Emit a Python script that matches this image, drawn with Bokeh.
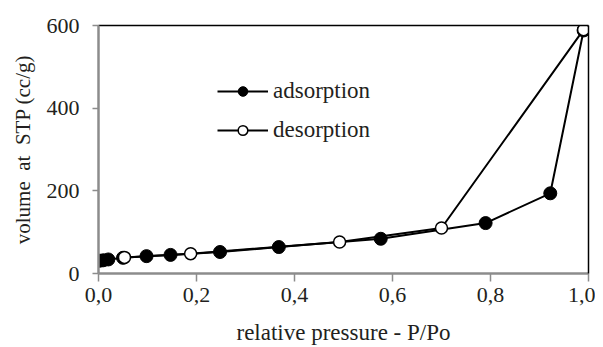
from bokeh.plotting import figure
from bokeh.models import Range1d, LinearAxis, FixedTicker, Legend, LegendItem
from bokeh.embed import file_html
from bokeh.resources import INLINE

# data
ads_x = [0.003, 0.01, 0.02, 0.05, 0.098, 0.147, 0.248, 0.368, 0.576, 0.79, 0.922, 0.99]
ads_y = [31, 32, 34, 38, 42, 45, 52, 64, 84, 122, 194, 588]
des_x = [0.99, 0.70, 0.492, 0.188, 0.053]
des_y = [590, 110, 76, 48, 39]

x_ticks = [0.0, 0.2, 0.4, 0.6, 0.8, 1.0]
x_tick_labels = ["0,0", "0,2", "0,4", "0,6", "0,8", "1,0"]
y_ticks = [0, 200, 400, 600]
y_tick_labels = ["0", "200", "400", "600"]

FONT = "Liberation Serif"
TXT = "#231f20"
AX = "#8c8c8c"

p = figure(width=595, height=347, output_backend="svg", toolbar_location=None,
           x_range=Range1d(0, 1.0), y_range=Range1d(0, 600),
           min_border_left=98, min_border_right=7, min_border_top=25, min_border_bottom=74)
p.xgrid.visible = False
p.ygrid.visible = False
p.outline_line_color = None
p.background_fill_color = "white"

for ax in (p.xaxis[0], p.yaxis[0]):
    ax.axis_line_color = AX
    ax.axis_line_width = 2.5
    ax.major_tick_line_color = AX
    ax.major_tick_line_width = 1.5
    ax.major_tick_in = 0
    ax.minor_tick_line_color = None
    ax.major_label_text_font = FONT
    ax.major_label_text_font_size = "22px"
    ax.major_label_text_color = TXT
    ax.axis_label_text_font = FONT
    ax.axis_label_text_font_style = "normal"
    ax.axis_label_text_color = TXT

p.xaxis.ticker = FixedTicker(ticks=x_ticks)
p.xaxis.major_label_overrides = dict(zip(x_ticks, x_tick_labels))
p.xaxis.major_tick_out = 8
p.xaxis.major_label_standoff = 6
p.xaxis.axis_label = "relative pressure - P/Po"
p.xaxis.axis_label_text_font_size = "23px"
p.xaxis.axis_label_standoff = 15

p.yaxis.ticker = FixedTicker(ticks=y_ticks)
p.yaxis.major_label_overrides = dict(zip(y_ticks, y_tick_labels))
p.yaxis.major_tick_out = 6
p.yaxis.major_label_standoff = 13
p.yaxis.axis_label = "volume\u00a0 at\u00a0 STP (cc/g)"
p.yaxis.axis_label_text_font_size = "21px"
p.yaxis.axis_label_standoff = 9

# black top and right borders
for side in ("above", "right"):
    a = LinearAxis(ticker=FixedTicker(ticks=[]), axis_line_color="black", axis_line_width=1.5,
                   major_tick_line_color=None, minor_tick_line_color=None,
                   major_label_text_font_size="0px")
    p.add_layout(a, side)

l1 = p.line(ads_x, ads_y, line_color="black", line_width=2)
l2 = p.line(des_x, des_y, line_color="black", line_width=2)
s1 = p.scatter(ads_x, ads_y, marker="circle", size=13, fill_color="black", line_color="black")
s2 = p.scatter(des_x, des_y, marker="circle", size=12, fill_color="white", line_color="black", line_width=1.5)

legend = Legend(items=[LegendItem(label="adsorption", renderers=[l1, s1]),
                       LegendItem(label="desorption", renderers=[l2, s2])],
                location=(119, 130), padding=0, margin=0, spacing=13,
                glyph_width=51, glyph_height=24, label_height=24, label_standoff=5,
                border_line_color=None, background_fill_alpha=0,
                label_text_font=FONT, label_text_font_size="23px", label_text_color=TXT)
p.add_layout(legend, "center")

open("out.html", "w").write(file_html(p, INLINE))
